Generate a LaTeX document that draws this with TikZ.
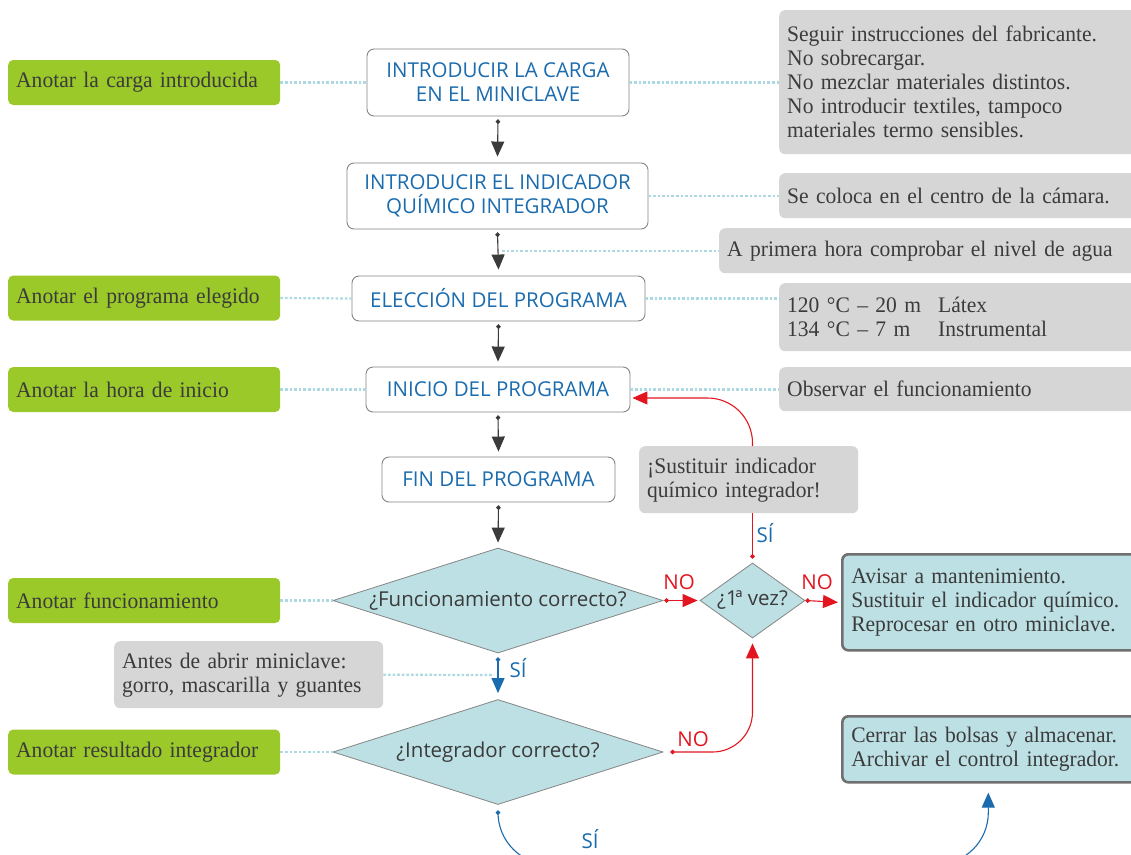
\documentclass[tikz,border=0pt]{standalone}
\usepackage{fontspec}
\setmainfont[WordSpace=0.85,FakeStretch=0.97]{Liberation Serif}
\newfontfamily\labelfont{Open Sans}
\usetikzlibrary{shapes.geometric,arrows.meta}

\definecolor{leaf}{HTML}{9BC92A}
\definecolor{note}{HTML}{D6D6D6}
\definecolor{pale}{HTML}{BDE0E4}
\definecolor{stepblue}{HTML}{1B6CAE}
\definecolor{alert}{HTML}{E3161F}
\definecolor{ink}{HTML}{3B3B3B}
\definecolor{rim}{HTML}{858585}
\definecolor{frame}{HTML}{707070}
\definecolor{dotline}{HTML}{ADD9E0}

\begin{document}
\begin{tikzpicture}[x=1pt,y=-1pt,
  serif/.style={font=\fontsize{22.2}{24}\selectfont},
  sans/.style={font=\labelfont\fontsize{20.5}{24}\selectfont},
  stepbox/.style={sans, draw=rim, line width=0.9pt, fill=white, rounded corners=7pt,
    text=stepblue, align=center, inner sep=0pt},
  askbox/.style={sans, diamond, draw=rim, line width=0.8pt, fill=pale, text=ink,
    inner sep=0pt},
  leafbox/.style={serif, fill=leaf, rounded corners=5pt, text=ink, anchor=west,
    minimum width=272pt, minimum height=45pt, text width=256pt, inner xsep=8pt, align=left},
  notebox/.style={serif, fill=note, rounded corners=6pt, text=ink, anchor=north west,
    inner xsep=8pt, align=left},
  endbox/.style={serif, fill=pale, draw=frame, line width=2.6pt, rounded corners=6pt,
    text=ink, anchor=north west, inner xsep=9pt, align=left},
  flow/.style={draw=ink, line width=1.1pt,
    {Circle[length=4.5pt]}-{Triangle[length=15pt,width=13pt]}},
  yesflow/.style={draw=stepblue, line width=1.1pt,
    {Circle[length=4.5pt]}-{Triangle[length=15pt,width=13pt]}},
  noflow/.style={draw=alert, line width=1.1pt,
    {Circle[length=4.5pt]}-{Triangle[length=15pt,width=13pt]}},
  dotlink/.style={draw=dotline, line width=2.2pt, dash pattern=on 2.6pt off 2pt},
  yestag/.style={sans, text=stepblue, inner sep=0pt},
  notag/.style={sans, text=alert, inner sep=0pt}]

\useasboundingbox (0,0) rectangle (1131,854);
\clip (0,0) rectangle (1131,854);
\fill[white] (0,0) rectangle (1131,854);

% main process steps
\node[stepbox, minimum width=262pt, minimum height=67pt] (load) at (498,82.5) {INTRODUCIR LA CARGA\\EN EL MINICLAVE};
\node[stepbox, minimum width=301pt, minimum height=66pt] (ind) at (497.5,196) {INTRODUCIR EL INDICADOR\\QUÍMICO INTEGRADOR};
\node[stepbox, minimum width=293pt, minimum height=45pt] (prog) at (498.5,298.5) {ELECCIÓN DEL PROGRAMA};
\node[stepbox, minimum width=264pt, minimum height=45pt] (start) at (498,389.5) {INICIO DEL PROGRAMA};
\node[stepbox, minimum width=233pt, minimum height=45pt] (finish) at (498.5,479.5) {FIN DEL PROGRAMA};

% decisions
\node[askbox, shape aspect=3.14, minimum width=330pt, minimum height=105pt] (works) at (498,600.5) {¿Funcionamiento correcto?};
\node[askbox, shape aspect=3.14, minimum width=330pt, minimum height=105pt] (integ) at (498,752) {¿Integrador correcto?};
\node[askbox, shape aspect=1.45, minimum width=105pt, minimum height=75pt] (first) at (752.5,600.5) {¿1\kern-2.5ptª vez?};

% records to keep
\node[leafbox] (rec1) at (8,82.5) {Anotar la carga introducida};
\node[leafbox] (rec2) at (8,298) {Anotar el programa elegido};
\node[leafbox] (rec3) at (8,389.5) {Anotar la hora de inicio};
\node[leafbox] (rec4) at (8,600.5) {Anotar funcionamiento};
\node[leafbox] (rec5) at (8,752) {Anotar resultado integrador};

% remarks
\node[notebox, minimum width=370pt, minimum height=144pt, text width=354pt] (tip1) at (779,10)
  {Seguir instrucciones del fabricante.\\No sobrecargar.\\No mezclar materiales distintos.\\No introducir textiles, tampoco\\materiales termo sensibles.};
\node[notebox, minimum width=370pt, minimum height=45pt, text width=354pt] (tip2) at (779,173)
  {Se coloca en el centro de la cámara.};
\node[notebox, minimum width=430pt, minimum height=45pt, text width=414pt] (tip3) at (719,228)
  {A primera hora comprobar el nivel de agua};
\node[notebox, minimum width=370pt, minimum height=68pt, text width=354pt] (tip4) at (779,283)
  {\makebox[151pt][l]{120 °C – 20 m}Látex\\\makebox[151pt][l]{134 °C – 7 m}Instrumental};
\node[notebox, minimum width=370pt, minimum height=44pt, text width=354pt] (tip5) at (779,367)
  {Observar el funcionamiento};
\node[notebox, minimum width=219pt, minimum height=67pt, text width=203pt] (swap) at (639,446)
  {¡Sustituir indicador\\químico integrador!};
\node[notebox, minimum width=269pt, minimum height=67pt, text width=253pt] (gear) at (114,641)
  {Antes de abrir miniclave:\\gorro, mascarilla y guantes};

% outcomes
\node[endbox, minimum width=300pt, minimum height=96pt, text width=282pt] (fail) at (841,553)
  {Avisar a mantenimiento.\\Sustituir el indicador químico.\\Reprocesar en otro miniclave.};
\node[endbox, minimum width=300pt, minimum height=66pt, text width=282pt] (store) at (841,715)
  {Cerrar las bolsas y almacenar.\\Archivar el control integrador.};

% free ends of two dotted links
\coordinate (tapA) at (502,251);
\coordinate (tapB) at (494,675);

% dotted links
\draw[dotlink] (rec1.east) -- (load.west);
\draw[dotlink] (load.east) -- (load.east -| tip1.west);
\draw[dotlink] (ind.east) -- (ind.east -| tip2.west);
\draw[dotlink] (tapA) -- (tapA -| tip3.west);
\draw[dotlink] (rec2.east) -- (prog.west);
\draw[dotlink] (prog.east) -- (prog.east -| tip4.west);
\draw[dotlink] (rec3.east) -- (start.west);
\draw[dotlink] (start.east) -- (start.east -| tip5.west);
\draw[dotlink] (rec4.east) -- (works.west);
\draw[dotlink] (gear.east) -- (tapB);
\draw[dotlink] (rec5.east) -- (integ.west);

% main flow
\draw[flow] ([yshift=-3pt]load.south) -- ([yshift=6pt]ind.north);
\draw[flow] ([yshift=-3pt]ind.south) -- ([yshift=6pt]prog.north);
\draw[flow] ([yshift=-3pt]prog.south) -- ([yshift=5pt]start.north);
\draw[flow] ([yshift=-3pt]start.south) -- ([yshift=5pt]finish.north);
\draw[flow] ([yshift=-3pt]finish.south) -- ([yshift=5pt]works.north);
\draw[yesflow] ([yshift=-4pt]works.south) -- ([yshift=6pt]integ.north);

% failure branches
\draw[noflow] ([xshift=1pt]works.east) -- ([xshift=-2pt]first.west);
\draw[noflow] ([xshift=0pt]first.east) -- ([xshift=-3pt]fail.west);
\draw[draw=alert, line width=1.1pt, {Circle[length=4.5pt]}-] ([yshift=4pt]first.north) -- (first.north |- swap.south);
\draw[draw=alert, line width=1.1pt, -{Triangle[length=15pt,width=13pt]}, rounded corners=45pt]
  (first.north |- swap.north) |- ([xshift=2pt,yshift=-8.5pt]start.east);
\draw[noflow, rounded corners=40pt] ([xshift=7pt]integ.east) -| ([yshift=-5pt]first.south);

% success to storage
\draw[yesflow, rounded corners=52pt] ([yshift=-5.5pt]integ.south) |- (740,864.5)
  -| ([xshift=-4pt,yshift=-9pt]store.south);

% branch labels
\node[notag] (n1) at (679,582) {NO};
\node[notag] (n2) at (817,582) {NO};
\node[notag] (n3) at (693,739) {NO};
\node[yestag] (y1) at (765,533) {SÍ};
\node[yestag] (y2) at (518,668) {SÍ};
\node[yestag] (y3) at (590,839) {SÍ};
\end{tikzpicture}
\end{document}
